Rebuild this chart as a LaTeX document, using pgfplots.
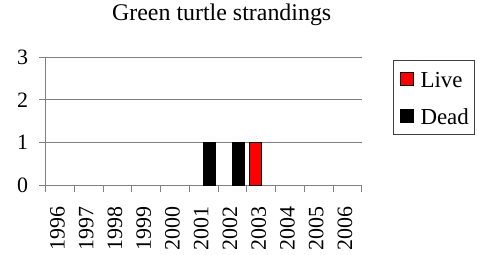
\documentclass[border=0pt]{standalone}
\usepackage{pgfplots}
\pgfplotsset{compat=1.18}
\usepackage{fontspec}
\setmainfont{Liberation Serif}
\definecolor{axgray}{RGB}{128,128,128}
\definecolor{legborder}{RGB}{64,64,64}
\begin{document}
\begin{tikzpicture}
\path[use as bounding box] (0,0) rectangle (477bp,255bp);
\begin{axis}[
  at={(45.7bp,70bp)}, anchor=south west,
  scale only axis, width=316bp, height=127.7bp,
  xmin=-0.5, xmax=10.5, ymin=0, ymax=3,
  clip=false,
  axis lines=left,
  axis line style={draw=axgray, line width=0.8bp, -},
  ytick={0,1,2,3},
  ymajorgrids, grid style={draw=axgray, line width=0.8bp},
  tick align=outside,
  major tick length=6.5bp,
  tick style={draw=axgray, line width=0.8bp},
  xtick={-0.5,0.5,1.5,2.5,3.5,4.5,5.5,6.5,7.5,8.5,9.5,10.5},
  xticklabels={1996,1997,1998,1999,2000,2001,2002,2003,2004,2005,2006,{}},
  /pgf/number format/assume math mode=true,
  tick label style={font=\fontsize{22}{26}\selectfont},
  xticklabel style={inner sep=0pt, xshift=11.86bp, yshift=-15.2bp, rotate=90, anchor=east},
  yticklabel style={inner sep=0pt, anchor=east, xshift=-10.9bp},
  title={Green turtle strandings},
  title style={at={(axis description cs:0.557,1.24)}, anchor=base, font=\fontsize{24}{28}\selectfont, inner sep=0pt},
  legend style={at={(axis description cs:1.1,0.979)}, anchor=north west,
    draw=legborder, line width=0.8bp,
    font=\fontsize{23}{27}\selectfont,
    inner xsep=3bp, inner ysep=6.5bp, row sep=13.7bp,
    nodes={inner sep=3bp, text height=17.5bp, text depth=0bp}},
  legend cell align=left,
  legend image code/.code={\draw[#1, draw=black, line width=0.8bp] (3bp,-6.5bp) rectangle (16bp,6.5bp); \path (0bp,0bp) (20bp,0bp);},
]
\addplot[ybar, bar width=11.5bp, bar shift=-5.75bp, fill=red, draw=black, line width=0.8bp] coordinates {(7,1)};
\addlegendentry{Live}
\addplot[ybar, bar width=11.5bp, bar shift=5.75bp, fill=black, draw=black, line width=0.8bp] coordinates {(5,1) (6,1)};
\addlegendentry{Dead}
\pgfplotsinvokeforeach{-0.5,0.5,1.5,2.5,3.5,4.5,5.5,6.5,7.5,8.5,9.5,10.5}{
  \draw[axgray, line width=0.8bp] (axis cs:#1,0) -- ([yshift=-6.5bp]axis cs:#1,0);
}
\pgfplotsinvokeforeach{0,1,2,3}{
  \draw[axgray, line width=0.8bp] (axis cs:-0.5,#1) -- ([xshift=-6.5bp]axis cs:-0.5,#1);
}
\end{axis}
\end{tikzpicture}
\end{document}
